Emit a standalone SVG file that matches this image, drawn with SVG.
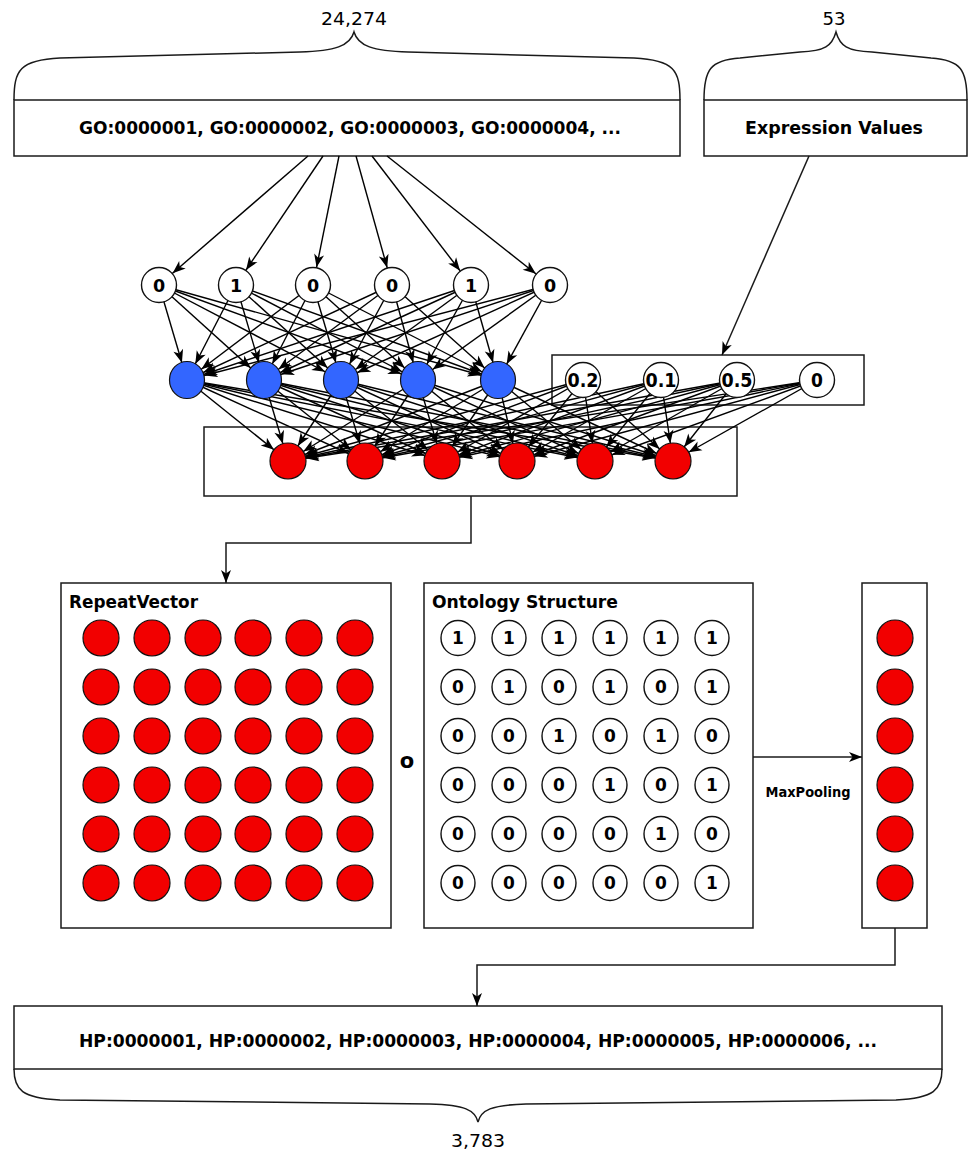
<svg xmlns="http://www.w3.org/2000/svg" width="970" height="1150" viewBox="0 0 970 1150">
<style>
.box{fill:#fff;stroke:#1a1a1a;stroke-width:1.5}
.brace{fill:none;stroke:#1a1a1a;stroke-width:1.5}
.wn{fill:#fff;stroke:#111;stroke-width:1.4}
.bn{fill:#3366ff;stroke:#111;stroke-width:1.2}
.rn{fill:#f20000;stroke:#111;stroke-width:1.2}
.e line{stroke:#000;stroke-width:1.4;marker-end:url(#ah)}
.c{fill:none;stroke:#1a1a1a;stroke-width:1.5;marker-end:url(#ah0)}
.b{font-family:"DejaVu Sans",sans-serif;font-weight:bold;text-anchor:middle;fill:#000}
.cd{font-family:"DejaVu Sans Condensed","DejaVu Sans",sans-serif;font-stretch:condensed;text-anchor:middle;fill:#000}
.lbl{font-size:17.5px}
.om{font-size:17px}
</style>
<defs>
<marker id="ah" markerUnits="userSpaceOnUse" markerWidth="40" markerHeight="12" refX="31" refY="5" orient="auto" overflow="visible"><path d="M0,0 L13,5 L0,10 L3.5,5 z" fill="#000"/></marker>
<marker id="ah0" markerUnits="userSpaceOnUse" markerWidth="14" markerHeight="12" refX="13" refY="5" orient="auto" overflow="visible"><path d="M0,0 L13,5 L0,10 L3.5,5 z" fill="#000"/></marker>
</defs>
<rect width="970" height="1150" fill="#fff"/>

<g id="braces">
<path class="brace" d="M14,100 C14,70 20,60 60,58 L300,52 C335,51 350,46 354,32 C358,46 373,51 408,52 L634,58 C674,60 680,70 680,100"/>
<path class="brace" d="M704,100 C704,70 710,60 740,58 L800,52 C825,51 832,46 836,32 C840,46 847,51 872,52 L931,58 C961,60 967,70 967,100"/>
<path class="brace" d="M14,1069 C14,1090 22,1098 60,1100 L430,1104 C465,1105 475,1110 478,1122 C481,1110 491,1105 526,1104 L896,1100 C934,1098 942,1090 942,1069"/>
<text class="cd" x="354" y="25" font-size="18" textLength="66" lengthAdjust="spacingAndGlyphs">24,274</text>
<text class="cd" x="834" y="25" font-size="18" textLength="23" lengthAdjust="spacingAndGlyphs">53</text>
<text class="cd" x="478" y="1147" font-size="18" textLength="54" lengthAdjust="spacingAndGlyphs">3,783</text>
</g>

<g id="go-box">
<rect class="box" x="14" y="100" width="666" height="56"/>
<text class="cd" x="350" y="134" font-size="18" font-weight="bold" textLength="542" lengthAdjust="spacingAndGlyphs">GO:0000001, GO:0000002, GO:0000003, GO:0000004, ...</text>
</g>
<g id="expr-box">
<rect class="box" x="704" y="100" width="263" height="56"/>
<text class="cd" x="834" y="134" font-size="18" font-weight="bold" textLength="178" lengthAdjust="spacingAndGlyphs">Expression Values</text>
</g>
<g id="expr-layer">
<rect class="box" x="552" y="355" width="312" height="50"/>
</g>
<g id="red-layer">
<rect class="box" x="204" y="427" width="533" height="69"/>
</g>
<g id="hp-box">
<rect class="box" x="14" y="1006" width="928" height="63"/>
<text class="cd" x="478" y="1047" font-size="18" font-weight="bold" textLength="798" lengthAdjust="spacingAndGlyphs">HP:0000001, HP:0000002, HP:0000003, HP:0000004, HP:0000005, HP:0000006, ...</text>
</g>

<g id="connectors">
<path class="c" d="M809,156 L722,355"/>
<path class="c" d="M471,496 V543 H226 V583"/>
<path class="c" d="M753,757 H862"/>
<path class="c" d="M895,928 V965 H477 V1006"/>
<g class="e">
<line x1="308" y1="156" x2="159" y2="285"/>
<line x1="323" y1="156" x2="236" y2="285"/>
<line x1="339" y1="156" x2="313" y2="285"/>
<line x1="356" y1="156" x2="392" y2="285"/>
<line x1="372" y1="156" x2="471" y2="285"/>
<line x1="387" y1="156" x2="550" y2="285"/>

<line x1="159" y1="285" x2="187" y2="380"/>
<line x1="159" y1="285" x2="264" y2="380"/>
<line x1="159" y1="285" x2="341" y2="380"/>
<line x1="159" y1="285" x2="418" y2="380"/>
<line x1="159" y1="285" x2="498" y2="380"/>
<line x1="236" y1="285" x2="187" y2="380"/>
<line x1="236" y1="285" x2="264" y2="380"/>
<line x1="236" y1="285" x2="341" y2="380"/>
<line x1="236" y1="285" x2="418" y2="380"/>
<line x1="236" y1="285" x2="498" y2="380"/>
<line x1="313" y1="285" x2="187" y2="380"/>
<line x1="313" y1="285" x2="264" y2="380"/>
<line x1="313" y1="285" x2="341" y2="380"/>
<line x1="313" y1="285" x2="418" y2="380"/>
<line x1="313" y1="285" x2="498" y2="380"/>
<line x1="392" y1="285" x2="187" y2="380"/>
<line x1="392" y1="285" x2="264" y2="380"/>
<line x1="392" y1="285" x2="341" y2="380"/>
<line x1="392" y1="285" x2="418" y2="380"/>
<line x1="392" y1="285" x2="498" y2="380"/>
<line x1="471" y1="285" x2="187" y2="380"/>
<line x1="471" y1="285" x2="264" y2="380"/>
<line x1="471" y1="285" x2="341" y2="380"/>
<line x1="471" y1="285" x2="418" y2="380"/>
<line x1="471" y1="285" x2="498" y2="380"/>
<line x1="550" y1="285" x2="187" y2="380"/>
<line x1="550" y1="285" x2="264" y2="380"/>
<line x1="550" y1="285" x2="341" y2="380"/>
<line x1="550" y1="285" x2="418" y2="380"/>
<line x1="550" y1="285" x2="498" y2="380"/>

<line x1="187" y1="380" x2="288" y2="461"/>
<line x1="187" y1="380" x2="365" y2="461"/>
<line x1="187" y1="380" x2="442" y2="461"/>
<line x1="187" y1="380" x2="517" y2="461"/>
<line x1="187" y1="380" x2="595" y2="461"/>
<line x1="187" y1="380" x2="673" y2="461"/>
<line x1="264" y1="380" x2="288" y2="461"/>
<line x1="264" y1="380" x2="365" y2="461"/>
<line x1="264" y1="380" x2="442" y2="461"/>
<line x1="264" y1="380" x2="517" y2="461"/>
<line x1="264" y1="380" x2="595" y2="461"/>
<line x1="264" y1="380" x2="673" y2="461"/>
<line x1="341" y1="380" x2="288" y2="461"/>
<line x1="341" y1="380" x2="365" y2="461"/>
<line x1="341" y1="380" x2="442" y2="461"/>
<line x1="341" y1="380" x2="517" y2="461"/>
<line x1="341" y1="380" x2="595" y2="461"/>
<line x1="341" y1="380" x2="673" y2="461"/>
<line x1="418" y1="380" x2="288" y2="461"/>
<line x1="418" y1="380" x2="365" y2="461"/>
<line x1="418" y1="380" x2="442" y2="461"/>
<line x1="418" y1="380" x2="517" y2="461"/>
<line x1="418" y1="380" x2="595" y2="461"/>
<line x1="418" y1="380" x2="673" y2="461"/>
<line x1="498" y1="380" x2="288" y2="461"/>
<line x1="498" y1="380" x2="365" y2="461"/>
<line x1="498" y1="380" x2="442" y2="461"/>
<line x1="498" y1="380" x2="517" y2="461"/>
<line x1="498" y1="380" x2="595" y2="461"/>
<line x1="498" y1="380" x2="673" y2="461"/>
<line x1="583" y1="380" x2="288" y2="461"/>
<line x1="583" y1="380" x2="365" y2="461"/>
<line x1="583" y1="380" x2="442" y2="461"/>
<line x1="583" y1="380" x2="517" y2="461"/>
<line x1="583" y1="380" x2="595" y2="461"/>
<line x1="583" y1="380" x2="673" y2="461"/>
<line x1="661" y1="380" x2="288" y2="461"/>
<line x1="661" y1="380" x2="365" y2="461"/>
<line x1="661" y1="380" x2="442" y2="461"/>
<line x1="661" y1="380" x2="517" y2="461"/>
<line x1="661" y1="380" x2="595" y2="461"/>
<line x1="661" y1="380" x2="673" y2="461"/>
<line x1="737" y1="380" x2="288" y2="461"/>
<line x1="737" y1="380" x2="365" y2="461"/>
<line x1="737" y1="380" x2="442" y2="461"/>
<line x1="737" y1="380" x2="517" y2="461"/>
<line x1="737" y1="380" x2="595" y2="461"/>
<line x1="737" y1="380" x2="673" y2="461"/>
<line x1="817" y1="380" x2="288" y2="461"/>
<line x1="817" y1="380" x2="365" y2="461"/>
<line x1="817" y1="380" x2="442" y2="461"/>
<line x1="817" y1="380" x2="517" y2="461"/>
<line x1="817" y1="380" x2="595" y2="461"/>
<line x1="817" y1="380" x2="673" y2="461"/>
</g>
<text class="b" x="808" y="797" font-size="13.5" textLength="85" lengthAdjust="spacingAndGlyphs">MaxPooling</text>
</g>

<g id="in1"><circle class="wn" cx="159" cy="285" r="17.5"/><text class="b lbl" x="159" y="291.5">0</text></g>
<g id="in2"><circle class="wn" cx="236" cy="285" r="17.5"/><text class="b lbl" x="236" y="291.5">1</text></g>
<g id="in3"><circle class="wn" cx="313" cy="285" r="17.5"/><text class="b lbl" x="313" y="291.5">0</text></g>
<g id="in4"><circle class="wn" cx="392" cy="285" r="17.5"/><text class="b lbl" x="392" y="291.5">0</text></g>
<g id="in5"><circle class="wn" cx="471" cy="285" r="17.5"/><text class="b lbl" x="471" y="291.5">1</text></g>
<g id="in6"><circle class="wn" cx="550" cy="285" r="17.5"/><text class="b lbl" x="550" y="291.5">0</text></g>

<g id="h1"><ellipse class="bn" cx="187" cy="380" rx="17.5" ry="18.5"/></g>
<g id="h2"><ellipse class="bn" cx="264" cy="380" rx="17.5" ry="18.5"/></g>
<g id="h3"><ellipse class="bn" cx="341" cy="380" rx="17.5" ry="18.5"/></g>
<g id="h4"><ellipse class="bn" cx="418" cy="380" rx="17.5" ry="18.5"/></g>
<g id="h5"><ellipse class="bn" cx="498" cy="380" rx="17.5" ry="18.5"/></g>

<g id="x1"><circle class="wn" cx="583" cy="380" r="17.5"/><text class="cd" x="583" y="387" font-size="19" font-weight="bold" textLength="31" lengthAdjust="spacingAndGlyphs">0.2</text></g>
<g id="x2"><circle class="wn" cx="661" cy="380" r="17.5"/><text class="cd" x="661" y="387" font-size="19" font-weight="bold" textLength="31" lengthAdjust="spacingAndGlyphs">0.1</text></g>
<g id="x3"><circle class="wn" cx="737" cy="380" r="17.5"/><text class="cd" x="737" y="387" font-size="19" font-weight="bold" textLength="31" lengthAdjust="spacingAndGlyphs">0.5</text></g>
<g id="x4"><circle class="wn" cx="817" cy="380" r="17.5"/><text class="cd" x="817" y="387" font-size="19" font-weight="bold">0</text></g>

<g id="o1"><ellipse class="rn" cx="288" cy="461" rx="18" ry="18"/></g>
<g id="o2"><ellipse class="rn" cx="365" cy="461" rx="18" ry="18"/></g>
<g id="o3"><ellipse class="rn" cx="442" cy="461" rx="18" ry="18"/></g>
<g id="o4"><ellipse class="rn" cx="517" cy="461" rx="18" ry="18"/></g>
<g id="o5"><ellipse class="rn" cx="595" cy="461" rx="18" ry="18"/></g>
<g id="o6"><ellipse class="rn" cx="673" cy="461" rx="18" ry="18"/></g>

<g id="repeat-vector">
<rect class="box" x="61" y="583" width="330" height="345"/>
<text class="b" x="69" y="608" font-size="17" style="text-anchor:start" textLength="129" lengthAdjust="spacingAndGlyphs">RepeatVector</text>
<g class="rn">
<circle cx="101" cy="638" r="18"/><circle cx="152" cy="638" r="18"/><circle cx="203" cy="638" r="18"/><circle cx="253" cy="638" r="18"/><circle cx="304" cy="638" r="18"/><circle cx="355" cy="638" r="18"/>
<circle cx="101" cy="687" r="18"/><circle cx="152" cy="687" r="18"/><circle cx="203" cy="687" r="18"/><circle cx="253" cy="687" r="18"/><circle cx="304" cy="687" r="18"/><circle cx="355" cy="687" r="18"/>
<circle cx="101" cy="736" r="18"/><circle cx="152" cy="736" r="18"/><circle cx="203" cy="736" r="18"/><circle cx="253" cy="736" r="18"/><circle cx="304" cy="736" r="18"/><circle cx="355" cy="736" r="18"/>
<circle cx="101" cy="785" r="18"/><circle cx="152" cy="785" r="18"/><circle cx="203" cy="785" r="18"/><circle cx="253" cy="785" r="18"/><circle cx="304" cy="785" r="18"/><circle cx="355" cy="785" r="18"/>
<circle cx="101" cy="834" r="18"/><circle cx="152" cy="834" r="18"/><circle cx="203" cy="834" r="18"/><circle cx="253" cy="834" r="18"/><circle cx="304" cy="834" r="18"/><circle cx="355" cy="834" r="18"/>
<circle cx="101" cy="883" r="18"/><circle cx="152" cy="883" r="18"/><circle cx="203" cy="883" r="18"/><circle cx="253" cy="883" r="18"/><circle cx="304" cy="883" r="18"/><circle cx="355" cy="883" r="18"/>
</g>
</g>

<g id="hadamard"><text class="b" x="407" y="768" font-size="21">o</text></g>

<g id="ontology-structure">
<rect class="box" x="424" y="583" width="329" height="345"/>
<text class="b" x="432" y="608" font-size="17" style="text-anchor:start" textLength="186" lengthAdjust="spacingAndGlyphs">Ontology Structure</text>
<g class="wn">
<ellipse cx="458" cy="638" rx="17" ry="17.5"/><ellipse cx="509" cy="638" rx="17" ry="17.5"/><ellipse cx="559" cy="638" rx="17" ry="17.5"/><ellipse cx="610" cy="638" rx="17" ry="17.5"/><ellipse cx="661" cy="638" rx="17" ry="17.5"/><ellipse cx="712" cy="638" rx="17" ry="17.5"/>
<ellipse cx="458" cy="687" rx="17" ry="17.5"/><ellipse cx="509" cy="687" rx="17" ry="17.5"/><ellipse cx="559" cy="687" rx="17" ry="17.5"/><ellipse cx="610" cy="687" rx="17" ry="17.5"/><ellipse cx="661" cy="687" rx="17" ry="17.5"/><ellipse cx="712" cy="687" rx="17" ry="17.5"/>
<ellipse cx="458" cy="736" rx="17" ry="17.5"/><ellipse cx="509" cy="736" rx="17" ry="17.5"/><ellipse cx="559" cy="736" rx="17" ry="17.5"/><ellipse cx="610" cy="736" rx="17" ry="17.5"/><ellipse cx="661" cy="736" rx="17" ry="17.5"/><ellipse cx="712" cy="736" rx="17" ry="17.5"/>
<ellipse cx="458" cy="785" rx="17" ry="17.5"/><ellipse cx="509" cy="785" rx="17" ry="17.5"/><ellipse cx="559" cy="785" rx="17" ry="17.5"/><ellipse cx="610" cy="785" rx="17" ry="17.5"/><ellipse cx="661" cy="785" rx="17" ry="17.5"/><ellipse cx="712" cy="785" rx="17" ry="17.5"/>
<ellipse cx="458" cy="834" rx="17" ry="17.5"/><ellipse cx="509" cy="834" rx="17" ry="17.5"/><ellipse cx="559" cy="834" rx="17" ry="17.5"/><ellipse cx="610" cy="834" rx="17" ry="17.5"/><ellipse cx="661" cy="834" rx="17" ry="17.5"/><ellipse cx="712" cy="834" rx="17" ry="17.5"/>
<ellipse cx="458" cy="883" rx="17" ry="17.5"/><ellipse cx="509" cy="883" rx="17" ry="17.5"/><ellipse cx="559" cy="883" rx="17" ry="17.5"/><ellipse cx="610" cy="883" rx="17" ry="17.5"/><ellipse cx="661" cy="883" rx="17" ry="17.5"/><ellipse cx="712" cy="883" rx="17" ry="17.5"/>
</g>
<g class="b om">
<text x="458" y="644">1</text><text x="509" y="644">1</text><text x="559" y="644">1</text><text x="610" y="644">1</text><text x="661" y="644">1</text><text x="712" y="644">1</text>
<text x="458" y="693">0</text><text x="509" y="693">1</text><text x="559" y="693">0</text><text x="610" y="693">1</text><text x="661" y="693">0</text><text x="712" y="693">1</text>
<text x="458" y="742">0</text><text x="509" y="742">0</text><text x="559" y="742">1</text><text x="610" y="742">0</text><text x="661" y="742">1</text><text x="712" y="742">0</text>
<text x="458" y="791">0</text><text x="509" y="791">0</text><text x="559" y="791">0</text><text x="610" y="791">1</text><text x="661" y="791">0</text><text x="712" y="791">1</text>
<text x="458" y="840">0</text><text x="509" y="840">0</text><text x="559" y="840">0</text><text x="610" y="840">0</text><text x="661" y="840">1</text><text x="712" y="840">0</text>
<text x="458" y="889">0</text><text x="509" y="889">0</text><text x="559" y="889">0</text><text x="610" y="889">0</text><text x="661" y="889">0</text><text x="712" y="889">1</text>
</g>
</g>

<g id="maxpool-output">
<rect class="box" x="862" y="583" width="65" height="345"/>
<g class="rn">
<circle cx="895" cy="638" r="18"/><circle cx="895" cy="687" r="18"/><circle cx="895" cy="736" r="18"/><circle cx="895" cy="785" r="18"/><circle cx="895" cy="834" r="18"/><circle cx="895" cy="883" r="18"/>
</g>
</g>
</svg>
